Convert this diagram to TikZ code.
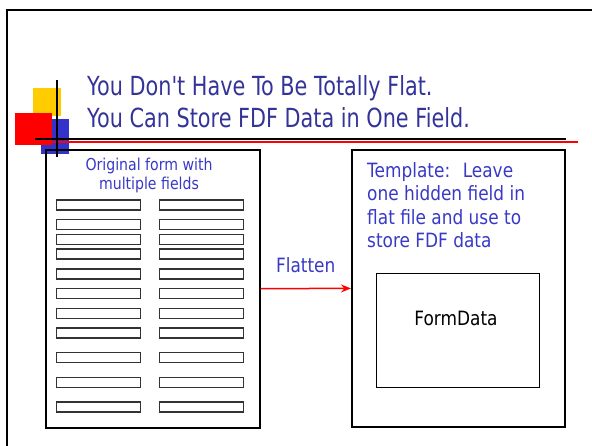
\documentclass[tikz,border=0pt]{standalone}
\usepackage{fontspec}
\setmainfont[FakeStretch=0.86]{DejaVu Sans}
\newfontfamily\titlefont[FakeStretch=0.79,Ligatures=TeXOff]{DejaVu Sans}
\usetikzlibrary{arrows.meta}
\definecolor{titleblue}{HTML}{333399}
\definecolor{textblue}{HTML}{3939C6}
\definecolor{slideyellow}{HTML}{FFCC00}
\definecolor{slideblue}{HTML}{3333CC}

\begin{document}
\begin{tikzpicture}[x=1pt,y=-1pt]
\useasboundingbox (0,0) rectangle (592,445);

% slide frame
\draw [line width=2pt] (7,450) -- (7,10) -- (600,10);

% title corner blocks and rules
\fill [slideyellow] (33,88) rectangle (61,116);
\fill [slideblue] (41,119) rectangle (69,154);
\fill [red] (15,113) rectangle (52,145);
\draw [red, line width=2pt] (35,141.5) -- (578,141.5);
\draw [line width=2pt] (35,139) -- (566,139);
\draw [line width=2.5pt] (57,80) -- (57,157);

\node (title) [anchor=north west, inner sep=0pt, align=left, text=titleblue,
      font=\titlefont\fontsize{26.3}{32.5}\selectfont] at (87,75)
      {You Don't Have To Be Totally Flat.\\You Can Store FDF Data in One Field.};

\begin{scope}[every node/.style={rectangle,draw,line width=1.5pt,anchor=north west}]
    \node (orig) [minimum width=214pt, minimum height=278pt] at (45,149) {};
    \node (tmpl) [minimum width=213pt, minimum height=277pt] at (351,149) {};
    \node (data) [line width=1pt, minimum width=163pt, minimum height=114pt] at (376,273) {};
\end{scope}

\begin{scope}[every node/.style={inner sep=0pt,font=\fontsize{19.7}{23.6}\selectfont}]
    \node (origtext) [anchor=north, align=center, text=textblue,
          font=\fontsize{16.4}{19.3}\selectfont] at (149,157.5)
          {Original form with\\multiple fields};
    \node (tmpltext) [anchor=north west, align=left, text=textblue] at (367,162)
          {Template:~ Leave\\one hidden field in\\flat file and use to\\store FDF data};
    \node (datatext) [anchor=base] at (456,325) {FormData};
\end{scope}

% form fields
\begin{scope}[every node/.style={rectangle,draw=black!80,line width=1.2pt,
              minimum width=84pt,minimum height=10pt,inner sep=0pt,anchor=north west}]
\foreach \y [count=\i] in {199.3,219,233.7,248.3,268.3,287.7,307.7,327.3,352,376.7,401.3} {
    \node (fl\i) at (55.7,\y) {};
    \node (fr\i) at (159,\y) {};
}
\end{scope}

\begin{scope}[>={Stealth[red,length=10pt,width=8pt]},
              every node/.style={inner sep=0pt},
              every edge/.style={draw=red,line width=1.5pt}]
    \path [->] (orig) edge node [above=15pt, text=textblue,
          font=\fontsize{19.7}{23.6}\selectfont] {Flatten} (tmpl);
\end{scope}
\end{tikzpicture}
\end{document}
